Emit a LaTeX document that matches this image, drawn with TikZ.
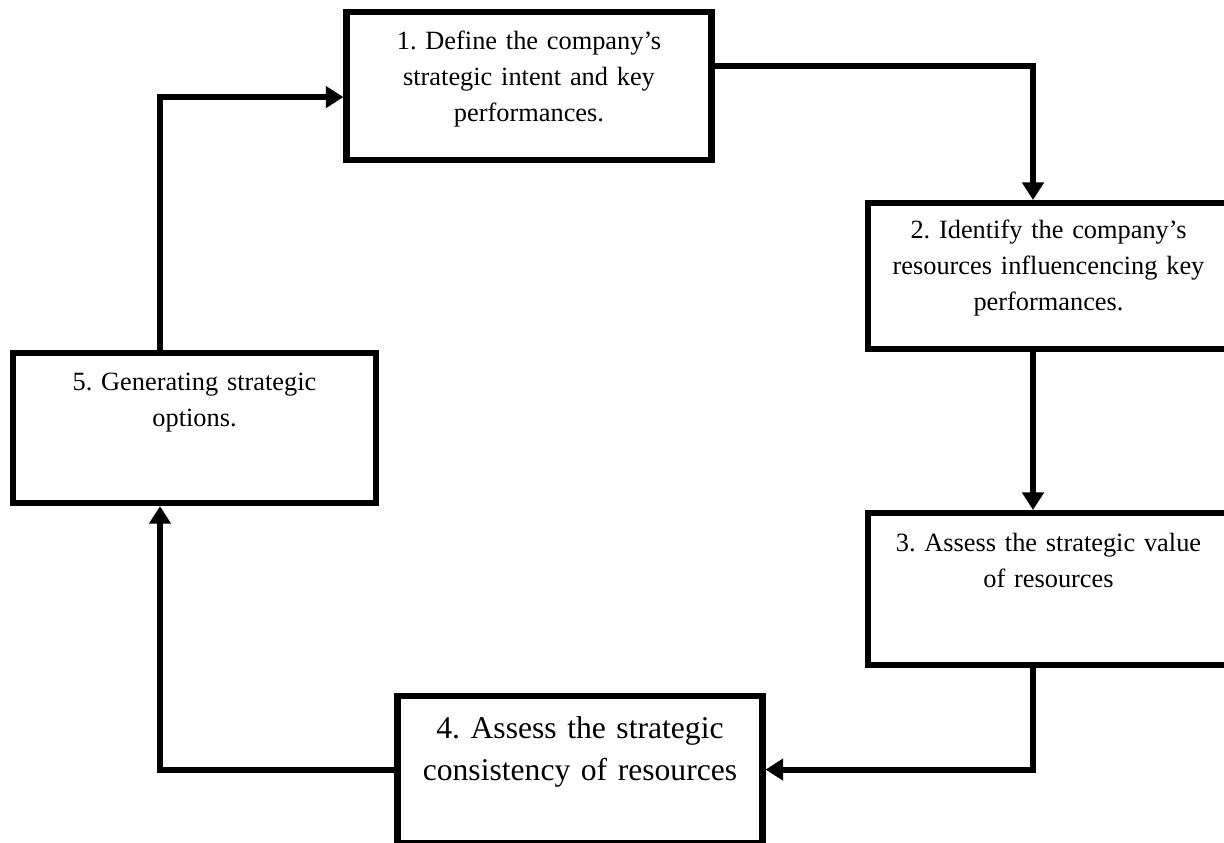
\documentclass[tikz,border=0pt]{standalone}
\usepackage{fontspec}
\setmainfont{Liberation Serif}
\usepackage{tikz}
\usetikzlibrary{arrows.meta}
\frenchspacing

\begin{document}
\begin{tikzpicture}[
    stage/.style={draw=black,line width=3.5pt,rectangle,inner sep=0pt,
      minimum width=7.3cm,text width=7.1cm,align=center,anchor=north,
      font=\fontsize{15}{20.7}\selectfont,text height=0.74cm,text depth=2.22cm},
    flow/.style={line width=3.5pt,-{Triangle[length=10pt,width=12pt]}}
  ]
  % page
  \useasboundingbox (0,0) rectangle (24.48,-16.86);
  \clip (0,0) rectangle (24.48,-16.86);
  % the five stages
  \node[stage] (s1) at (10.58,-0.18) {1. Define the company's\\strategic intent and key\\performances.};
  \node[stage,minimum width=7.22cm,text height=0.70cm,text depth=2.22cm] (s2) at (20.97,-4.0) {2. Identify the company's\\resources influencencing key\\performances.};
  \node[stage,minimum width=7.22cm,text height=0.76cm,text depth=2.28cm] (s3) at (20.97,-10.2) {3. Assess the strategic value\\of resources};
  \node[stage,font=\fontsize{18}{24.4}\selectfont,text height=0.84cm,text depth=2.10cm] (s4) at (11.6,-13.86) {4. Assess the strategic\\consistency of resources};
  \node[stage,minimum width=7.26cm,text height=0.74cm,text depth=2.26cm] (s5) at (3.89,-7.0) {5. Generating strategic\\options.};
  % connectors
  \draw[flow] ([yshift=4mm]s1.east) -| ([xshift=-3.1mm]s2.north);
  \draw[flow] ([xshift=-3.1mm]s2.south) -- ([xshift=-3.1mm]s3.north);
  \draw[flow] ([xshift=-3.1mm]s3.south) |- (s4.east);
  \draw[flow] (s4.west) -| ([xshift=-6.9mm]s5.south);
  \draw[flow] ([xshift=-6.9mm]s5.north) |- ([yshift=-2.2mm]s1.west);
\end{tikzpicture}
\end{document}
